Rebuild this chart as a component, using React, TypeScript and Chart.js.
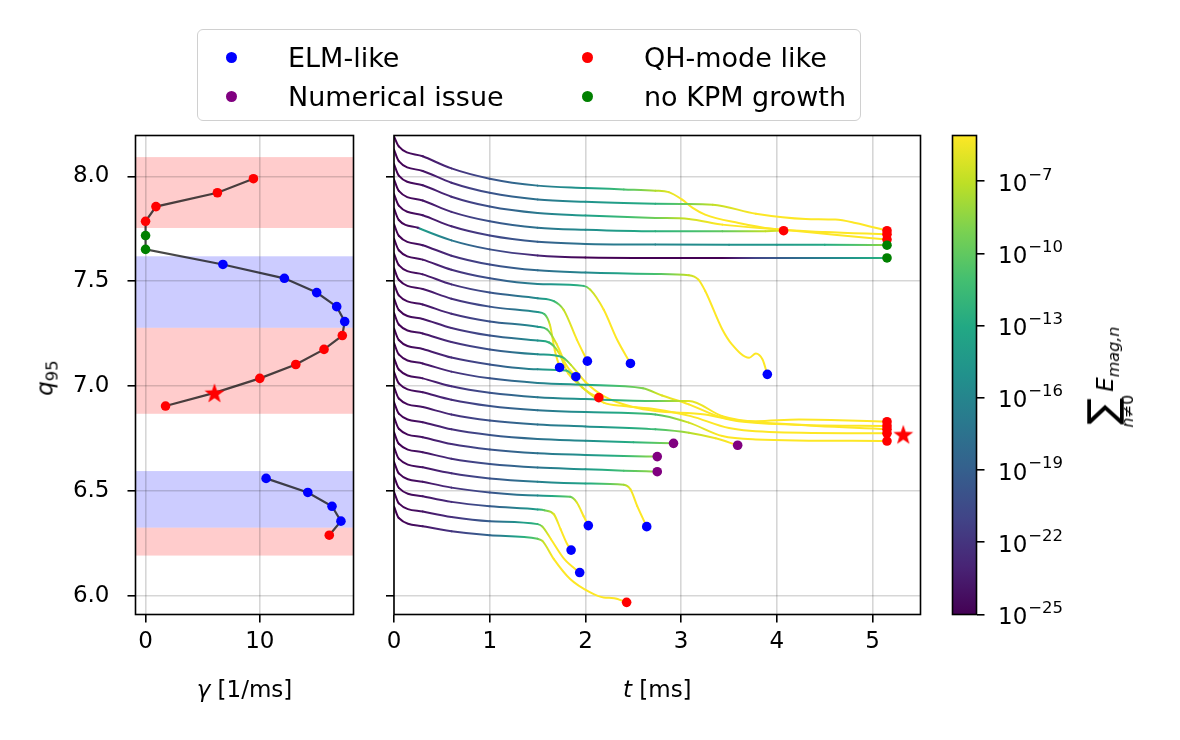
import React, { useEffect, useRef } from 'react';
import { Chart, registerables } from 'chart.js';

Chart.register(...registerables);

const FONT = "'DejaVu Sans', sans-serif";
const TICK_PX = 23;
const LEGEND_PX = 27;
const GRID_COLOR = 'rgba(0,0,0,0.16)';

// ---------- left panel: q95 (at ~1 ms) and KPM growth rate per simulation ----------
const simQ95 = [7.989, 7.922, 7.856, 7.786, 7.718, 7.652, 7.58, 7.514, 7.446, 7.379, 7.308, 7.241, 7.175, 7.103, 7.037, 6.968, 6.905, 6.836, 6.767, 6.698, 6.629, 6.56, 6.493, 6.427, 6.356, 6.289];
const simGrowthRate: (number | null)[] = [9.44, 6.29, 0.91, 0.0, 0.0, 0.0, 6.77, 12.15, 14.98, 16.73, 17.43, 17.22, 15.62, 13.15, 10.0, 6.03, 1.75, null, null, null, null, 10.55, 14.2, 16.32, 17.1, 16.08];
const simOutcome = ['QH', 'QH', 'QH', 'QH', 'none', 'none', 'ELM', 'ELM', 'ELM', 'ELM', 'ELM', 'QH', 'QH', 'QH', 'QH', 'QH', 'QH', 'NUM', 'NUM', 'NUM', 'NUM', 'ELM', 'ELM', 'ELM', 'ELM', 'QH'];
const starSim = 15;

const bandLow = [7.754, 7.278, 6.868, 6.325, 6.192];
const bandHigh = [8.092, 7.619, 7.278, 6.595, 6.325];
const bandKind = ['QH', 'ELM', 'QH', 'ELM', 'QH'];

const qTicks = [6.0, 6.5, 7.0, 7.5, 8.0];
const gammaTicks = [0, 10];
const timeTicks = [0, 1, 2, 3, 4, 5];
const energyExpTicks = [-25, -22, -19, -16, -13, -10, -7];

// ---------- right panel: q95(t) trajectories, coloured by log10 of summed magnetic energy ----------
const curveTime: number[][] = [
  [0, 0.05, 0.3, 0.6, 1.0, 1.5, 2.0, 2.4, 2.73, 2.87, 3.01, 3.12, 3.25, 3.6, 3.95, 4.5, 5.15],
  [0, 0.05, 0.3, 0.6, 1.0, 1.5, 2.0, 2.73, 3.0, 3.33, 3.78, 4.3, 4.61, 4.82, 5.15],
  [0, 0.05, 0.3, 0.6, 1.0, 1.5, 2.0, 2.73, 3.08, 3.43, 4.07, 4.6, 5.15],
  [0, 0.05, 0.3, 0.6, 1.0, 1.5, 2.0, 2.73, 3.43, 3.88, 4.07],
  [0, 0.05, 0.3, 0.6, 1.0, 1.5, 2.0, 2.73, 3.5, 4.0, 4.5, 5.0, 5.15],
  [0, 0.05, 0.25, 0.28, 0.6, 1.0, 1.5, 2.0, 2.73, 3.43, 3.78, 4.3, 4.8, 5.15],
  [0, 0.05, 0.3, 0.6, 1.0, 1.5, 2.0, 2.73, 3.08, 3.18, 3.25, 3.43, 3.53, 3.71, 3.78, 3.85, 3.9],
  [0, 0.05, 0.3, 0.6, 1.0, 1.5, 1.98, 2.05, 2.19, 2.33, 2.47],
  [0, 0.05, 0.3, 0.6, 1.0, 1.5, 1.67, 1.77, 1.91, 2.02],
  [0, 0.05, 0.3, 0.6, 1.0, 1.5, 1.57, 1.63, 1.68, 1.73],
  [0, 0.05, 0.3, 0.6, 1.0, 1.5, 1.6, 1.7, 1.8, 1.9],
  [0, 0.05, 0.3, 0.6, 1.0, 1.5, 1.62, 1.72, 1.82, 1.95, 2.05, 2.14],
  [0, 0.05, 0.3, 0.6, 1.0, 1.5, 1.75, 1.85, 2.0, 2.2, 2.5, 2.73, 3.25, 3.6, 4.3, 5.15],
  [0, 0.05, 0.3, 0.6, 1.0, 1.5, 1.8, 1.97, 2.19, 2.4, 2.73, 3.1, 3.5, 4.0, 5.15],
  [0, 0.05, 0.3, 0.6, 1.0, 1.5, 2.0, 2.6, 2.8, 3.08, 3.43, 4.13, 5.15],
  [0, 0.05, 0.3, 0.6, 1.0, 1.5, 2.0, 2.73, 3.08, 3.43, 3.78, 4.23, 5.15],
  [0, 0.05, 0.3, 0.6, 1.0, 1.5, 2.0, 2.73, 3.08, 3.43, 3.78, 5.15],
  [0, 0.05, 0.3, 0.6, 1.0, 1.5, 2.0, 2.73, 3.08, 3.36, 3.59],
  [0, 0.05, 0.3, 0.6, 1.0, 1.5, 2.0, 2.5, 2.92],
  [0, 0.05, 0.3, 0.6, 1.0, 1.5, 2.0, 2.4, 2.75],
  [0, 0.05, 0.3, 0.6, 1.0, 1.5, 2.0, 2.4, 2.75],
  [0, 0.05, 0.3, 0.6, 1.0, 1.5, 2.0, 2.4, 2.47, 2.54, 2.64],
  [0, 0.05, 0.3, 0.6, 1.0, 1.5, 1.84, 1.91, 1.98, 2.03],
  [0, 0.05, 0.3, 0.6, 1.0, 1.5, 1.57, 1.67, 1.74, 1.81, 1.85],
  [0, 0.05, 0.3, 0.6, 1.0, 1.5, 1.55, 1.64, 1.78, 1.94],
  [0, 0.05, 0.3, 0.6, 1.0, 1.5, 1.55, 1.67, 1.84, 2.05, 2.19, 2.3, 2.43],
];
const curveQ95: number[][] = [
  [8.19, 8.143, 8.096, 8.038, 7.989, 7.956, 7.945, 7.938, 7.932, 7.925, 7.889, 7.85, 7.818, 7.778, 7.75, 7.735, 7.724],
  [8.128, 8.073, 8.026, 7.97, 7.922, 7.89, 7.879, 7.87, 7.868, 7.865, 7.822, 7.797, 7.794, 7.778, 7.741],
  [8.059, 8.004, 7.958, 7.903, 7.856, 7.825, 7.814, 7.802, 7.797, 7.77, 7.746, 7.722, 7.699],
  [7.986, 7.931, 7.885, 7.831, 7.786, 7.755, 7.745, 7.738, 7.738, 7.739, 7.741],
  [7.916, 7.861, 7.815, 7.762, 7.718, 7.688, 7.678, 7.675, 7.674, 7.674, 7.674, 7.673, 7.672],
  [7.847, 7.792, 7.755, 7.749, 7.695, 7.652, 7.623, 7.613, 7.611, 7.611, 7.611, 7.611, 7.611, 7.611],
  [7.772, 7.717, 7.672, 7.622, 7.58, 7.552, 7.542, 7.535, 7.529, 7.508, 7.455, 7.27, 7.199, 7.135, 7.156, 7.127, 7.056],
  [7.703, 7.648, 7.603, 7.555, 7.514, 7.487, 7.478, 7.46, 7.365, 7.222, 7.108],
  [7.632, 7.577, 7.533, 7.485, 7.446, 7.419, 7.405, 7.365, 7.222, 7.119],
  [7.562, 7.507, 7.463, 7.417, 7.379, 7.353, 7.344, 7.29, 7.17, 7.089],
  [7.488, 7.433, 7.389, 7.345, 7.308, 7.283, 7.27, 7.2, 7.1, 7.045],
  [7.418, 7.363, 7.32, 7.277, 7.241, 7.217, 7.208, 7.16, 7.06, 7.0, 6.965, 6.945],
  [7.349, 7.294, 7.251, 7.21, 7.175, 7.152, 7.14, 7.1, 7.02, 6.95, 6.9, 6.881, 6.865, 6.833, 6.815, 6.81],
  [7.275, 7.22, 7.177, 7.136, 7.103, 7.08, 7.074, 6.992, 6.921, 6.905, 6.89, 6.857, 6.8, 6.78, 6.775],
  [7.206, 7.151, 7.108, 7.069, 7.037, 7.015, 7.006, 6.99, 6.955, 6.913, 6.85, 6.818, 6.794],
  [7.134, 7.079, 7.037, 6.999, 6.968, 6.947, 6.938, 6.929, 6.929, 6.857, 6.833, 6.841, 6.83],
  [7.068, 7.013, 6.971, 6.935, 6.905, 6.885, 6.876, 6.865, 6.826, 6.762, 6.746, 6.738],
  [6.996, 6.941, 6.9, 6.865, 6.836, 6.817, 6.808, 6.794, 6.778, 6.751, 6.718],
  [6.924, 6.869, 6.828, 6.794, 6.767, 6.748, 6.74, 6.732, 6.727],
  [6.852, 6.797, 6.756, 6.724, 6.698, 6.68, 6.672, 6.667, 6.664],
  [6.78, 6.725, 6.685, 6.654, 6.629, 6.612, 6.604, 6.597, 6.592],
  [6.709, 6.654, 6.613, 6.584, 6.56, 6.544, 6.536, 6.53, 6.508, 6.429, 6.33],
  [6.639, 6.584, 6.544, 6.516, 6.493, 6.478, 6.472, 6.445, 6.381, 6.335],
  [6.57, 6.515, 6.475, 6.448, 6.427, 6.412, 6.408, 6.389, 6.318, 6.246, 6.218],
  [6.496, 6.441, 6.402, 6.376, 6.356, 6.342, 6.33, 6.27, 6.175, 6.111],
  [6.426, 6.371, 6.332, 6.308, 6.289, 6.272, 6.262, 6.175, 6.08, 6.016, 5.992, 5.989, 5.969],
];
const curveLogE: number[][] = [
  [-25, -25, -24, -22.5, -20, -17, -14.5, -11, -7.5, -6, -5, -5, -5, -5, -5, -5, -5],
  [-25, -25, -24, -22.5, -20, -17.5, -15, -12.5, -10, -7, -5, -5, -5, -5, -5],
  [-25, -25, -24, -22.5, -20, -17, -14, -9.5, -6.5, -5, -5, -5, -5],
  [-25, -25, -24, -22.5, -20, -17.5, -15.5, -12.5, -10, -7, -6],
  [-25, -25, -24, -23, -21, -19, -17.5, -16, -15, -14.5, -13, -9.5, -8],
  [-25, -25, -24, -14, -17, -20, -23, -25, -25, -25, -21, -17.5, -14.5, -12],
  [-25, -25, -24, -22.5, -20.5, -18, -16, -11, -7, -5.5, -5, -5, -5, -5, -5, -5, -5],
  [-25, -25, -24, -22.5, -20, -16, -12, -7, -5, -5, -5],
  [-25, -25, -24, -22.5, -20, -15.5, -12, -7, -5, -5],
  [-25, -25, -24, -22.5, -20, -15, -11, -6, -5, -5],
  [-25, -25, -24, -22.5, -20, -15, -10, -5.5, -5, -5],
  [-25, -25, -24, -22.5, -20, -15, -12, -6, -5, -5, -5, -5],
  [-25, -25, -24, -22.5, -20, -15.5, -12, -7, -5, -5, -5, -5, -5, -5, -5, -5],
  [-25, -25, -24, -22.5, -20, -15.5, -11.5, -6, -5, -5, -5, -5, -5, -5, -5],
  [-25, -25, -24, -22.5, -20, -16.5, -13.5, -9, -6, -5, -5, -5, -5],
  [-25, -25, -24, -22.5, -20, -17, -14.5, -10, -6, -5, -5, -5, -5],
  [-25, -25, -24, -22.5, -20, -17.5, -15, -11, -6.5, -5, -5, -5],
  [-25, -25, -24, -22.5, -20, -17.5, -15.5, -11.5, -7.5, -5.5, -5],
  [-25, -25, -24, -22.5, -20, -17.5, -15.5, -12.5, -8.5],
  [-25, -25, -24, -22.5, -20, -17.5, -15, -12, -8],
  [-25, -25, -24, -22.5, -20, -17.5, -14.5, -11, -8],
  [-25, -25, -24, -22.5, -20, -16.5, -13.5, -8, -5.5, -5, -5],
  [-25, -25, -24, -22.5, -20, -15.5, -10, -6, -5, -5],
  [-25, -25, -24, -22.5, -19.5, -14, -10, -6, -5, -5, -5],
  [-25, -25, -24, -22.5, -19, -12, -8, -5, -5, -5],
  [-25, -25, -24, -22, -18.5, -10, -7, -5, -5, -5, -5, -5, -5],
];
const starTime = 5.32;
const starQ95 = 6.77;

const legendItems = [
  { label: 'ELM-like', kind: 'ELM' },
  { label: 'QH-mode like', kind: 'QH' },
  { label: 'Numerical issue', kind: 'NUM' },
  { label: 'no KPM growth', kind: 'none' },
];

// ---------- styling helpers ----------
const OUTCOME_COLOR: Record<string, string> = { ELM: '#0000ff', QH: '#ff0000', NUM: '#800080', none: '#008000' };
const BAND_COLOR: Record<string, string> = { QH: 'rgba(255,0,0,0.2)', ELM: 'rgba(0,0,255,0.2)' };
const VIRIDIS = ['#440154', '#482475', '#414487', '#355f8d', '#2a788e', '#21918c', '#22a884', '#44bf70', '#7ad151', '#bddf26', '#fde725'];
const E_MIN = -25;
const E_MAX = -5.1;

const VIR_RGB = VIRIDIS.map((h) => [parseInt(h.slice(1, 3), 16), parseInt(h.slice(3, 5), 16), parseInt(h.slice(5, 7), 16)]);
function viridis(f: number): string {
  const x = Math.max(0, Math.min(1, f)) * (VIR_RGB.length - 1);
  const i = Math.min(VIR_RGB.length - 2, Math.floor(x));
  const u = x - i;
  const a = VIR_RGB[i], b = VIR_RGB[i + 1];
  return `rgb(${Math.round(a[0] + (b[0] - a[0]) * u)},${Math.round(a[1] + (b[1] - a[1]) * u)},${Math.round(a[2] + (b[2] - a[2]) * u)})`;
}
const energyColor = (e: number) => viridis((e - E_MIN) / (E_MAX - E_MIN));

// geometry (page pixels)
const TOP = 135.5;
const BOTTOM = 614.5;
const H = 740;
const LEFT_AX = { x0: 0, w: 360, left: 135.5, right: 353.5 };
const RIGHT_AX = { x0: 360, w: 580, left: 394, right: 920.5 };
const CB_AX = { x0: 940, w: 240, left: 952.5, right: 976.5 };

function makeStar(color: string) {
  const size = 26;
  const c = document.createElement('canvas');
  c.width = size;
  c.height = size;
  const g = c.getContext('2d')!;
  g.beginPath();
  for (let k = 0; k < 10; k++) {
    const r = k % 2 === 0 ? 10.5 : 4.2;
    const a = -Math.PI / 2 + (k * Math.PI) / 5;
    const x = size / 2 + r * Math.cos(a);
    const y = size / 2 + 1 + r * Math.sin(a);
    if (k === 0) g.moveTo(x, y);
    else g.lineTo(x, y);
  }
  g.closePath();
  g.fillStyle = color;
  g.fill();
  return c;
}

function axis(o: { min: number; max: number; ticks: number[]; label: (v: number) => string; fit: (s: any) => void; position?: string; onArea?: boolean; pad?: number }) {
  return {
    type: 'linear',
    position: o.position,
    min: o.min,
    max: o.max,
    afterBuildTicks: (s: any) => {
      s.ticks = o.ticks.map((v) => ({ value: v }));
    },
    afterFit: o.fit,
    ticks: {
      color: '#000',
      font: { family: FONT, size: TICK_PX },
      padding: o.pad ?? 6,
      autoSkip: false,
      maxRotation: 0,
      callback: (v: any) => o.label(Number(v)),
    },
    grid: {
      display: true,
      drawOnChartArea: o.onArea !== false,
      color: GRID_COLOR,
      lineWidth: 1.6,
      drawTicks: true,
      tickLength: 8,
      tickColor: '#000',
      tickWidth: 1.6,
    },
    border: { display: false },
  };
}

const spinePlugin = {
  id: 'spines',
  afterDraw(chart: any) {
    const { ctx, chartArea: a } = chart;
    ctx.save();
    ctx.strokeStyle = '#000';
    ctx.lineWidth = 1.6;
    ctx.strokeRect(a.left, a.top, a.right - a.left, a.bottom - a.top);
    ctx.restore();
  },
};

const bandPlugin = {
  id: 'bands',
  beforeDraw(chart: any) {
    const { ctx, chartArea: a, scales } = chart;
    ctx.save();
    for (let i = 0; i < bandLow.length; i++) {
      const y0 = scales.y.getPixelForValue(bandHigh[i]);
      const y1 = scales.y.getPixelForValue(bandLow[i]);
      ctx.fillStyle = BAND_COLOR[bandKind[i]];
      ctx.fillRect(a.left, y0, a.right - a.left, y1 - y0);
    }
    ctx.restore();
  },
};

const SUP_MINUS = '\u2212';
const colorbarPlugin = {
  id: 'colorbar',
  afterDraw(chart: any) {
    const { ctx, chartArea: a, scales } = chart;
    ctx.save();
    const g = ctx.createLinearGradient(0, a.bottom, 0, a.top);
    VIRIDIS.forEach((c, i) => g.addColorStop(i / (VIRIDIS.length - 1), c));
    ctx.fillStyle = g;
    ctx.fillRect(a.left, a.top, a.right - a.left, a.bottom - a.top);
    ctx.strokeStyle = '#000';
    ctx.lineWidth = 1.6;
    ctx.strokeRect(a.left, a.top, a.right - a.left, a.bottom - a.top);
    ctx.fillStyle = '#000';
    ctx.textBaseline = 'middle';
    ctx.textAlign = 'left';
    energyExpTicks.forEach((v) => {
      const y = scales.y.getPixelForValue(v);
      const x = a.right + 21.5;
      ctx.font = `${TICK_PX}px ${FONT}`;
      ctx.fillText('10', x, y + 3.5);
      const w = ctx.measureText('10').width;
      ctx.font = `${16.5}px ${FONT}`;
      ctx.fillText(SUP_MINUS + String(Math.abs(v)), x + w + 1, y - 6);
    });
    ctx.restore();
  },
};

export default function App() {
  const leftRef = useRef<HTMLCanvasElement>(null);
  const rightRef = useRef<HTMLCanvasElement>(null);
  const cbRef = useRef<HTMLCanvasElement>(null);

  useEffect(() => {
    const charts: Chart[] = [];
    const star = makeStar('#ff0000');
    const common = {
      responsive: false,
      animation: false as const,
      devicePixelRatio: 1,
      events: [] as any[],
      plugins: { legend: { display: false }, tooltip: { enabled: false } },
    };

    // ---- left panel ----
    const groups: number[][] = [];
    let cur: number[] = [];
    simGrowthRate.forEach((g, i) => {
      if (g === null) {
        if (cur.length) groups.push(cur);
        cur = [];
      } else cur.push(i);
    });
    if (cur.length) groups.push(cur);
    const leftDatasets = groups.map((idx) => ({
      type: 'line',
      data: idx.map((i) => ({ x: simGrowthRate[i] as number, y: simQ95[i] })),
      borderColor: 'rgba(20,20,20,0.78)',
      borderWidth: 2.2,
      tension: 0,
      pointRadius: idx.map((i) => (i === starSim ? 8 : 4.8)),
      pointStyle: idx.map((i) => (i === starSim ? star : 'circle')),
      pointBackgroundColor: idx.map((i) => OUTCOME_COLOR[simOutcome[i]]),
      pointBorderWidth: 0,
      pointBorderColor: 'rgba(0,0,0,0)',
    }));
    if (leftRef.current) {
      charts.push(
        new Chart(leftRef.current, {
          type: 'line',
          data: { datasets: leftDatasets as any },
          options: {
            ...common,
            layout: { padding: { left: 0, top: TOP, right: LEFT_AX.w - LEFT_AX.right, bottom: 0 } },
            scales: {
              x: axis({ min: -0.88, max: 18.2, ticks: gammaTicks, label: (v) => String(v), fit: (s: any) => { s.height = H - BOTTOM; } }) as any,
              y: axis({ min: 5.911, max: 8.195, ticks: qTicks, label: (v) => v.toFixed(1), pad: 18, fit: (s: any) => { s.width = LEFT_AX.left; } }) as any,
            },
          },
          plugins: [bandPlugin, spinePlugin],
        } as any)
      );
    }

    // ---- right panel ----
    const curveSets = curveTime.map((ts, ci) => {
      const es = curveLogE[ci];
      return {
        type: 'line',
        data: ts.map((t, j) => ({ x: t, y: curveQ95[ci][j] })),
        borderWidth: 2,
        borderColor: energyColor(es[0]),
        borderCapStyle: 'round',
        borderJoinStyle: 'round',
        pointRadius: 0,
        cubicInterpolationMode: 'monotone',
        order: 10 + (curveTime.length - ci),
        segment: {
          borderColor: (ctx: any) => {
            const e0 = es[ctx.p0DataIndex];
            const e1 = es[ctx.p1DataIndex];
            if (Math.abs(e1 - e0) < 0.05) return energyColor(e0);
            const c2d = ctx.chart.ctx as CanvasRenderingContext2D;
            const g = c2d.createLinearGradient(ctx.p0.x, ctx.p0.y, ctx.p1.x, ctx.p1.y);
            for (let k = 0; k <= 8; k++) {
              const f = k / 8;
              g.addColorStop(f, energyColor(e0 + (e1 - e0) * f));
            }
            return g;
          },
        },
      };
    });
    const endPoints = {
      type: 'line',
      showLine: false,
      order: -1,
      data: curveTime.map((ts, ci) => ({ x: ts[ts.length - 1], y: curveQ95[ci][curveQ95[ci].length - 1] })),
      pointRadius: 4.8,
      pointBorderWidth: 0,
      pointBorderColor: 'rgba(0,0,0,0)',
      pointBackgroundColor: simOutcome.map((o) => OUTCOME_COLOR[o]),
    };
    const starSet = {
      type: 'line',
      showLine: false,
      order: -2,
      data: [{ x: starTime, y: starQ95 }],
      pointRadius: 8,
      pointStyle: star,
    };
    if (rightRef.current) {
      charts.push(
        new Chart(rightRef.current, {
          type: 'line',
          data: { datasets: [...curveSets, endPoints, starSet] as any },
          options: {
            ...common,
            layout: { padding: { left: 0, top: TOP, right: RIGHT_AX.w - (RIGHT_AX.right - RIGHT_AX.x0), bottom: 0 } },
            scales: {
              x: axis({ min: 0, max: 5.5, ticks: timeTicks, label: (v) => String(v), fit: (s: any) => { s.height = H - BOTTOM; } }) as any,
              y: axis({ min: 5.911, max: 8.195, ticks: qTicks, label: () => '', fit: (s: any) => { s.width = RIGHT_AX.left - RIGHT_AX.x0; } }) as any,
            },
          },
          plugins: [spinePlugin],
        } as any)
      );
    }

    // ---- colorbar ----
    if (cbRef.current) {
      charts.push(
        new Chart(cbRef.current, {
          type: 'scatter',
          data: { datasets: [{ data: [] }] },
          options: {
            ...common,
            layout: { padding: { left: CB_AX.left - CB_AX.x0, top: TOP, right: 0, bottom: H - BOTTOM } },
            scales: {
              x: { type: 'linear', display: false, min: 0, max: 1 },
              y: axis({
                min: E_MIN,
                max: E_MAX,
                ticks: energyExpTicks,
                label: () => '',
                position: 'right',
                onArea: false,
                fit: (s: any) => { s.width = CB_AX.w - (CB_AX.right - CB_AX.x0); },
              }) as any,
            },
          },
          plugins: [colorbarPlugin],
        } as any)
      );
    }
    return () => charts.forEach((c) => c.destroy());
  }, []);

  const abs = (l: number, w: number): React.CSSProperties => ({ position: 'absolute', left: l, top: 0, width: w, height: H });
  const centered = (x: number, y: number, rot = false): React.CSSProperties => ({
    position: 'absolute',
    left: x,
    top: y,
    transform: rot ? 'translate(-50%,-50%) rotate(-90deg)' : 'translate(-50%,-50%)',
    whiteSpace: 'nowrap',
    lineHeight: 1,
  });

  const legendPos = [
    { dot: 231, text: 288, y: 57 },
    { dot: 587, text: 644, y: 57 },
    { dot: 231, text: 288, y: 96 },
    { dot: 587, text: 644, y: 96 },
  ];

  return (
    <div style={{ position: 'absolute', left: 0, top: 0, width: 1180, height: H, background: '#fff', fontFamily: FONT, color: '#000', overflow: 'hidden' }}>
      <canvas ref={leftRef} width={LEFT_AX.w} height={H} style={abs(LEFT_AX.x0, LEFT_AX.w)} />
      <canvas ref={rightRef} width={RIGHT_AX.w} height={H} style={abs(RIGHT_AX.x0, RIGHT_AX.w)} />
      <canvas ref={cbRef} width={CB_AX.w} height={H} style={abs(CB_AX.x0, CB_AX.w)} />

      {/* axis titles */}
      <div style={{ ...centered((LEFT_AX.left + LEFT_AX.right) / 2, 689), fontSize: TICK_PX }}>
        <i>γ</i> [1/ms]
      </div>
      <div style={{ ...centered((RIGHT_AX.left + RIGHT_AX.right) / 2, 689), fontSize: TICK_PX }}>
        <i>t</i> [ms]
      </div>
      <div style={{ ...centered(45, 378, true), fontSize: TICK_PX }}>
        <i>q</i>
        <span style={{ fontSize: 16.5, position: 'relative', top: 5 }}>95</span>
      </div>

      {/* colorbar label */}
      <div style={{ ...centered(1110, 377, true), display: 'flex', alignItems: 'flex-start' }}>
        <div style={{ display: 'flex', flexDirection: 'column', alignItems: 'center' }}>
          <span style={{ fontSize: 40, lineHeight: '36px' }}>∑</span>
          <span style={{ fontSize: 15.5, lineHeight: '16px' }}>
            <i>n</i>≠0
          </span>
        </div>
        <div style={{ fontSize: TICK_PX, marginTop: 10, marginLeft: 3 }}>
          <i>E</i>
          <i style={{ fontSize: 16, position: 'relative', top: 6 }}>mag,n</i>
        </div>
      </div>

      {/* legend */}
      <div style={{ position: 'absolute', left: 197, top: 29, width: 664, height: 92, boxSizing: 'border-box', border: '1.6px solid #d0d0d0', borderRadius: 6, background: 'rgba(255,255,255,0.8)' }} />
      {legendItems.map((it, i) => (
        <React.Fragment key={it.label}>
          <div style={{ position: 'absolute', left: legendPos[i].dot - 5.5, top: legendPos[i].y - 5.5, width: 11, height: 11, borderRadius: '50%', background: OUTCOME_COLOR[it.kind] }} />
          <div style={{ position: 'absolute', left: legendPos[i].text, top: legendPos[i].y, transform: 'translateY(-50%)', fontSize: LEGEND_PX, lineHeight: 1, whiteSpace: 'nowrap' }}>{it.label}</div>
        </React.Fragment>
      ))}
    </div>
  );
}
